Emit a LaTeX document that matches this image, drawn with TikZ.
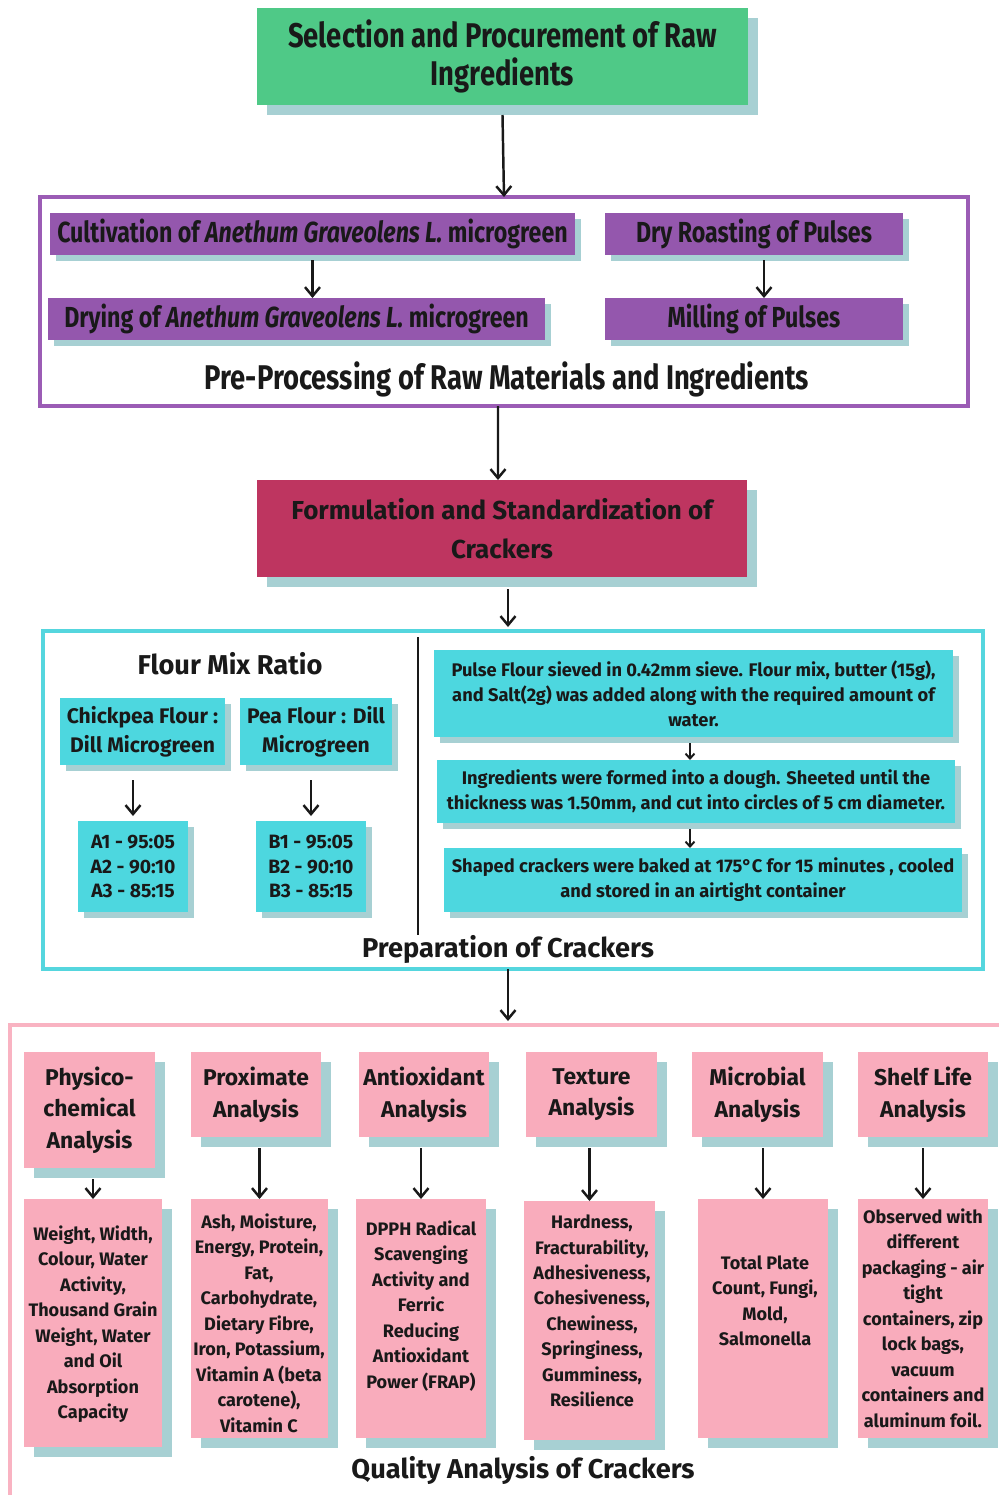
\documentclass[tikz,border=0pt]{standalone}
\usepackage{fontspec}
\setmainfont{Fira Sans}
\newfontfamily\cond[FakeStretch=0.8]{Fira Sans}
\usetikzlibrary{shadows,arrows.meta,calc}
\definecolor{grn}{RGB}{79,201,135}
\definecolor{shd}{RGB}{167,208,211}
\definecolor{purp}{RGB}{148,87,173}
\definecolor{purpf}{RGB}{155,92,181}
\definecolor{crim}{RGB}{190,53,96}
\definecolor{cyanb}{RGB}{77,215,223}
\definecolor{cyanf}{RGB}{85,214,222}
\definecolor{pinkb}{RGB}{249,172,188}
\definecolor{pinkf}{RGB}{249,179,194}
\definecolor{ink}{RGB}{25,25,25}
\tikzset{
  sz/.style 2 args={minimum width=#1*0.02cm, minimum height=#2*0.02cm},
  bx/.style={inner sep=0pt, outer sep=0pt, align=center, text=ink},
  shbig/.style={drop shadow={shadow xshift=0.2cm, shadow yshift=-0.2cm, fill=shd, opacity=1}},
  shsmall/.style={drop shadow={shadow xshift=0.12cm, shadow yshift=-0.12cm, fill=shd, opacity=1}},
  gbox/.style={bx, fill=grn, shbig},
  pbox/.style={bx, fill=purp, shsmall, font=\cond\bfseries\fontsize{16.5}{18}\selectfont},
  cbox/.style={bx, fill=crim, shbig},
  cybox/.style={bx, fill=cyanb, shsmall},
  pkbox/.style={bx, fill=pinkb, shbig},
  frame/.style={bx, line width=2.2pt, fill=none},
  txt/.style={inner sep=0pt, align=center, text=ink},
  arr/.style={draw=ink, line width=1.4pt, -{Straight Barb[length=1.8mm, width=3.0mm, line width=1.4pt]}},
  sarr/.style={draw=ink, line width=1.1pt, -{Straight Barb[length=1.0mm, width=1.8mm, line width=1.1pt]}},
  detail/.style={txt, font=\bfseries\fontsize{10.3}{14.5}\selectfont},
  head/.style={font=\bfseries\fontsize{13}{18}\selectfont},
  rtxt/.style={font=\bfseries\fontsize{10.4}{14.2}\selectfont},
}
\begin{document}
\begin{tikzpicture}[x=0.02cm, y=-0.02cm]
\useasboundingbox (0,0) rectangle (999,1495);
\clip (0,0) rectangle (999,1495);
\fill[white] (0,0) rectangle (999,1495);

% top
\node[gbox, sz={491}{97}, font=\cond\bfseries\fontsize{19.5}{22}\selectfont] (sel) at (502.5,56.5) {Selection and Procurement of Raw\\Ingredients};

% pre-processing
\node[frame, draw=purpf, sz={928}{209}] (pre) at (504,301.5) {};
\node[pbox, sz={525}{42}] (cult) at (312.5,234) {Cultivation of \textit{Anethum Graveolens L.} microgreen};
\node[pbox, sz={298}{42}] (dry) at (754,234) {Dry Roasting of Pulses};
\node[pbox, sz={497}{42}] (drying) at (296.5,319) {Drying of \textit{Anethum Graveolens L.} microgreen};
\node[pbox, sz={298}{42}] (mill) at (754,319) {Milling of Pulses};
\node[txt, font=\cond\bfseries\fontsize{19.5}{20}\selectfont] (prelab) at (507,379) {Pre-Processing of Raw Materials and Ingredients};

\draw[arr] ([yshift=-0.2cm]sel.south) -- (pre.north);
\draw[arr] ([yshift=-0.1cm]cult.south) -- (cult.south |- drying.north);
\draw[arr] ([xshift=0.2cm, yshift=-0.1cm]dry.south) -- ([xshift=0.2cm]mill.north);

% formulation
\node[cbox, sz={490}{97}, font=\bfseries\fontsize{14.8}{22}\selectfont] (form) at (502,528.5) {Formulation and Standardization of\\Crackers};
\draw[arr] ([xshift=-0.12cm]pre.south) -- ([xshift=-0.08cm]form.north);

% preparation
\node[frame, draw=cyanf, sz={940}{338}] (prep) at (513,800) {};
\draw[arr] ([xshift=0.12cm, yshift=-0.24cm]form.south) -- ([xshift=0.12cm, yshift=0.08cm]form.south |- prep.north);
\draw[draw=ink, line width=1.3pt] (418,637) -- (418,935);
\node[txt, font=\bfseries\fontsize{15.5}{16}\selectfont] (flour) at (230,664) {Flour Mix Ratio};
\node[cybox, sz={165}{67}, font=\bfseries\fontsize{12}{16.5}\selectfont] (chick) at (142.5,731.5) {Chickpea Flour :\\Dill Microgreen};
\node[cybox, sz={152}{67}, font=\bfseries\fontsize{12}{16.5}\selectfont] (pea) at (316,731.5) {Pea Flour : Dill\\Microgreen};
\node[cybox, sz={110}{91}, font=\bfseries\fontsize{11}{14.2}\selectfont] (ra) at (133,866.5) {A1 - 95:05\\A2 - 90:10\\A3 - 85:15};
\node[cybox, sz={110}{91}, font=\bfseries\fontsize{11}{14.2}\selectfont] (rb) at (311,866.5) {B1 - 95:05\\B2 - 90:10\\B3 - 85:15};
\draw[arr] ([yshift=-0.3cm]chick.south -| ra.north) -- ([yshift=0.1cm]ra.north);
\draw[arr] ([yshift=-0.3cm]pea.south -| rb.north) -- ([yshift=0.1cm]rb.north);

\node[cybox, sz={519}{87}, rtxt] (r1) at (693.5,693.5) {Pulse Flour sieved in 0.42mm sieve. Flour mix, butter (15g),\\and Salt(2g) was added along with the required amount of\\water.};
\node[cybox, sz={518}{63}, rtxt] (r2) at (696,791.5) {Ingredients were formed into a dough. Sheeted until the\\thickness was 1.50mm, and cut into circles of 5 cm diameter.};
\node[cybox, sz={518}{64}, rtxt] (r3) at (703,880) {Shaped crackers were baked at 175°C for 15 minutes , cooled\\and stored in an airtight container};
\draw[sarr] ([xshift=-0.07cm, yshift=-0.12cm]r1.south) -- ([xshift=-0.07cm]r1.south |- r2.north);
\draw[sarr] ([xshift=-0.12cm, yshift=-0.12cm]r2.south) -- ([xshift=-0.12cm]r2.south |- r3.north);
\node[txt, font=\bfseries\fontsize{15.5}{16}\selectfont] (preplab) at (508,949) {Preparation of Crackers};

% quality
\node[frame, draw=pinkf, sz={1000}{484}] (qual) at (510,1267) {};
\draw[arr] ([xshift=-0.1cm]prep.south) -- ([xshift=-0.1cm, yshift=0.08cm]prep.south |- qual.north);

\node[pkbox, sz={131}{116}, head] (h1) at (89.5,1110) {Physico-\\chemical\\Analysis};
\node[pkbox, sz={130}{85}, head] (h2) at (256,1094.5) {Proximate\\Analysis};
\node[pkbox, sz={130}{85}, head] (h3) at (424,1094.5) {Antioxidant\\Analysis};
\node[pkbox, sz={131}{85}, head] (h4) at (591.5,1094.5) {Texture\\Analysis};
\node[pkbox, sz={131}{85}, head] (h5) at (757.5,1094.5) {Microbial\\Analysis};
\node[pkbox, sz={130}{85}, head] (h6) at (923,1094.5) {Shelf Life\\Analysis};

\node[pkbox, sz={138}{248}] (d1) at (93,1323) {};
\node[pkbox, sz={137}{239}] (d2) at (259.5,1318.5) {};
\node[pkbox, sz={130}{239}] (d3) at (421,1318.5) {};
\node[pkbox, sz={131}{239}] (d4) at (589.5,1320.5) {};
\node[pkbox, sz={130}{239}] (d5) at (763,1318.5) {};
\node[pkbox, sz={130}{239}] (d6) at (923,1318.5) {};

\node[detail] (t1) at (93,1324) {Weight, Width,\\Colour, Water\\Activity,\\Thousand Grain\\Weight, Water\\and Oil\\Absorption\\Capacity};
\node[detail] (t2) at (259,1323) {Ash, Moisture,\\Energy, Protein,\\Fat,\\Carbohydrate,\\Dietary Fibre,\\Iron, Potassium,\\Vitamin A (beta\\carotene),\\Vitamin C};
\node[detail] (t3) at (421,1306) {DPPH Radical\\Scavenging\\Activity and\\Ferric\\Reducing\\Antioxidant\\Power (FRAP)};
\node[detail] (t4) at (592,1311) {Hardness,\\Fracturability,\\Adhesiveness,\\Cohesiveness,\\Chewiness,\\Springiness,\\Gumminess,\\Resilience};
\node[detail] (t5) at (765,1301) {Total Plate\\Count, Fungi,\\Mold,\\Salmonella};
\node[detail] (t6) at (923,1318) {Observed with\\different\\packaging - air\\tight\\containers, zip\\lock bags,\\vacuum\\containers and\\aluminum foil.};

\draw[arr] ([yshift=-0.22cm]h1.south -| d1.north) -- (d1.north);
\draw[arr] ([yshift=-0.22cm]h2.south -| d2.north) -- (d2.north);
\draw[arr] ([yshift=-0.22cm]h3.south -| d3.north) -- (d3.north);
\draw[arr] ([yshift=-0.22cm]h4.south -| d4.north) -- (d4.north);
\draw[arr] ([yshift=-0.22cm]h5.south -| d5.north) -- (d5.north);
\draw[arr] ([yshift=-0.22cm]h6.south -| d6.north) -- (d6.north);

\node[txt, font=\bfseries\fontsize{15.5}{16}\selectfont] (quallab) at (523,1470) {Quality Analysis of Crackers};
\end{tikzpicture}
\end{document}
